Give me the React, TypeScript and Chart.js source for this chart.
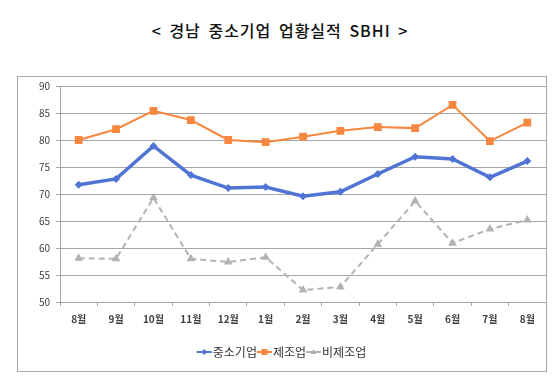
import React, { useEffect, useRef } from "react";
import { Chart, registerables } from "chart.js";

Chart.register(...registerables);

const title = "< 경남 중소기업 업황실적 SBHI >";
const months = ["8월", "9월", "10월", "11월", "12월", "1월", "2월", "3월", "4월", "5월", "6월", "7월", "8월"];
const seriesNames = ["중소기업", "제조업", "비제조업"];
const smeValues = [71.7, 72.8, 78.9, 73.5, 71.1, 71.3, 69.6, 70.4, 73.7, 76.9, 76.5, 73.1, 76.1];
const mfgValues = [80.0, 82.0, 85.4, 83.7, 80.0, 79.6, 80.6, 81.7, 82.4, 82.2, 86.5, 79.8, 83.2];
const nonMfgValues = [58.1, 58.0, 69.3, 58.0, 57.4, 58.3, 52.2, 52.8, 60.7, 68.7, 60.9, 63.5, 65.2];
const yTicks = { min: 50, max: 90, step: 5 };

const BLUE = "#4f74d4";
const ORANGE = "#f7873e";
const GRAY = "#b3b3b3";
const FONT = "'Noto Sans CJK KR', 'Noto Sans', sans-serif";

const frameLegend = {
  id: "frameLegend",
  beforeDraw(chart: any) {
    const ctx = chart.ctx;
    ctx.save();
    ctx.strokeStyle = "#a6a6a6";
    ctx.lineWidth = 1;
    ctx.strokeRect(17.5, 76.5, 529, 295);
    ctx.restore();
  },
  afterDraw(chart: any) {
    const ctx = chart.ctx;
    ctx.save();
    ctx.font = "12px " + FONT;
    const lineLen = 15;
    const items = chart.data.datasets.map((d: any) => ({
      ds: d,
      w: lineLen + ctx.measureText(d.label).width + 1,
    }));
    const total = items.reduce((s: number, it: any) => s + it.w, 0);
    let x = 281.5 - total / 2;
    const y = 352;
    for (const it of items) {
      const d = it.ds;
      ctx.strokeStyle = d.borderColor;
      ctx.lineWidth = 2;
      ctx.setLineDash([]);
      ctx.beginPath();
      ctx.moveTo(x, y);
      ctx.lineTo(x + lineLen, y);
      ctx.stroke();
      ctx.fillStyle = d.borderColor;
      const cx = x + lineLen / 2;
      ctx.beginPath();
      if (d.pointStyle === "rectRot") {
        ctx.moveTo(cx, y - 3);
        ctx.lineTo(cx + 3, y);
        ctx.lineTo(cx, y + 3);
        ctx.lineTo(cx - 3, y);
      } else if (d.pointStyle === "rect") {
        ctx.rect(cx - 3, y - 3, 6, 6);
      } else {
        ctx.moveTo(cx, y - 3);
        ctx.lineTo(cx + 3, y + 2);
        ctx.lineTo(cx - 3, y + 2);
      }
      ctx.closePath();
      ctx.fill();
      ctx.fillStyle = "#333333";
      ctx.textBaseline = "middle";
      ctx.textAlign = "left";
      ctx.fillText(d.label, x + lineLen + 1, y);
      x += it.w;
    }
    ctx.restore();
  },
};

export default function App() {
  const ref = useRef<HTMLCanvasElement>(null);
  useEffect(() => {
    const chart = new Chart(ref.current!, {
      type: "line",
      data: {
        labels: months,
        datasets: [
          {
            label: seriesNames[0],
            data: smeValues,
            borderColor: BLUE,
            backgroundColor: BLUE,
            borderWidth: 3.5,
            pointStyle: "rectRot",
            pointRadius: 4,
            pointBorderWidth: 0,
            tension: 0,
          },
          {
            label: seriesNames[1],
            data: mfgValues,
            borderColor: ORANGE,
            backgroundColor: ORANGE,
            borderWidth: 2,
            pointStyle: "rect",
            pointRadius: 5.5,
            pointBorderWidth: 0,
            tension: 0,
          },
          {
            label: seriesNames[2],
            data: nonMfgValues,
            borderColor: GRAY,
            backgroundColor: GRAY,
            borderWidth: 2,
            borderDash: [6, 4],
            pointStyle: "triangle",
            pointRadius: 5,
            pointBorderWidth: 0,
            tension: 0,
          },
        ],
      },
      options: {
        animation: false,
        responsive: false,
        devicePixelRatio: 1,
        layout: { padding: { left: 17, right: 14, top: 86, bottom: 12 } },
        plugins: { legend: { display: false }, tooltip: { enabled: false }, title: { display: false } },
        scales: {
          x: {
            offset: true,
            grid: {
              drawOnChartArea: false,
              drawTicks: true,
              tickLength: 4,
              offset: true,
              color: "#a6a6a6",
            },
            border: { color: "#a6a6a6" },
            ticks: {
              font: { family: FONT, size: 10, weight: "bold" },
              color: "#404040",
              padding: 7,
              maxRotation: 0,
              autoSkip: false,
            },
            afterFit(scale: any) {
              scale.height = 69;
            },
          },
          y: {
            min: yTicks.min,
            max: yTicks.max,
            ticks: {
              stepSize: yTicks.step,
              font: { family: FONT, size: 10 },
              color: "#404040",
              padding: 6,
            },
            grid: { color: "#a6a6a6", tickLength: 4 },
            border: { color: "#a6a6a6" },
            afterFit(scale: any) {
              scale.width = 43;
            },
          },
        },
      },
      plugins: [frameLegend],
    } as any);
    return () => chart.destroy();
  }, []);
  return (
    <div style={{ position: "fixed", left: 0, top: 0, width: 560, height: 383, background: "#fff" }}>
      <div
        style={{
          position: "absolute",
          left: 0,
          top: 19,
          width: 560,
          textAlign: "center",
          fontFamily: FONT,
          fontSize: 16,
          fontWeight: 500,
          letterSpacing: "1px",
          wordSpacing: "3px",
          color: "#111",
          lineHeight: "22px",
        }}
      >
        {title}
      </div>
      <canvas ref={ref} width={560} height={383} style={{ position: "absolute", left: 0, top: 0 }} />
    </div>
  );
}
